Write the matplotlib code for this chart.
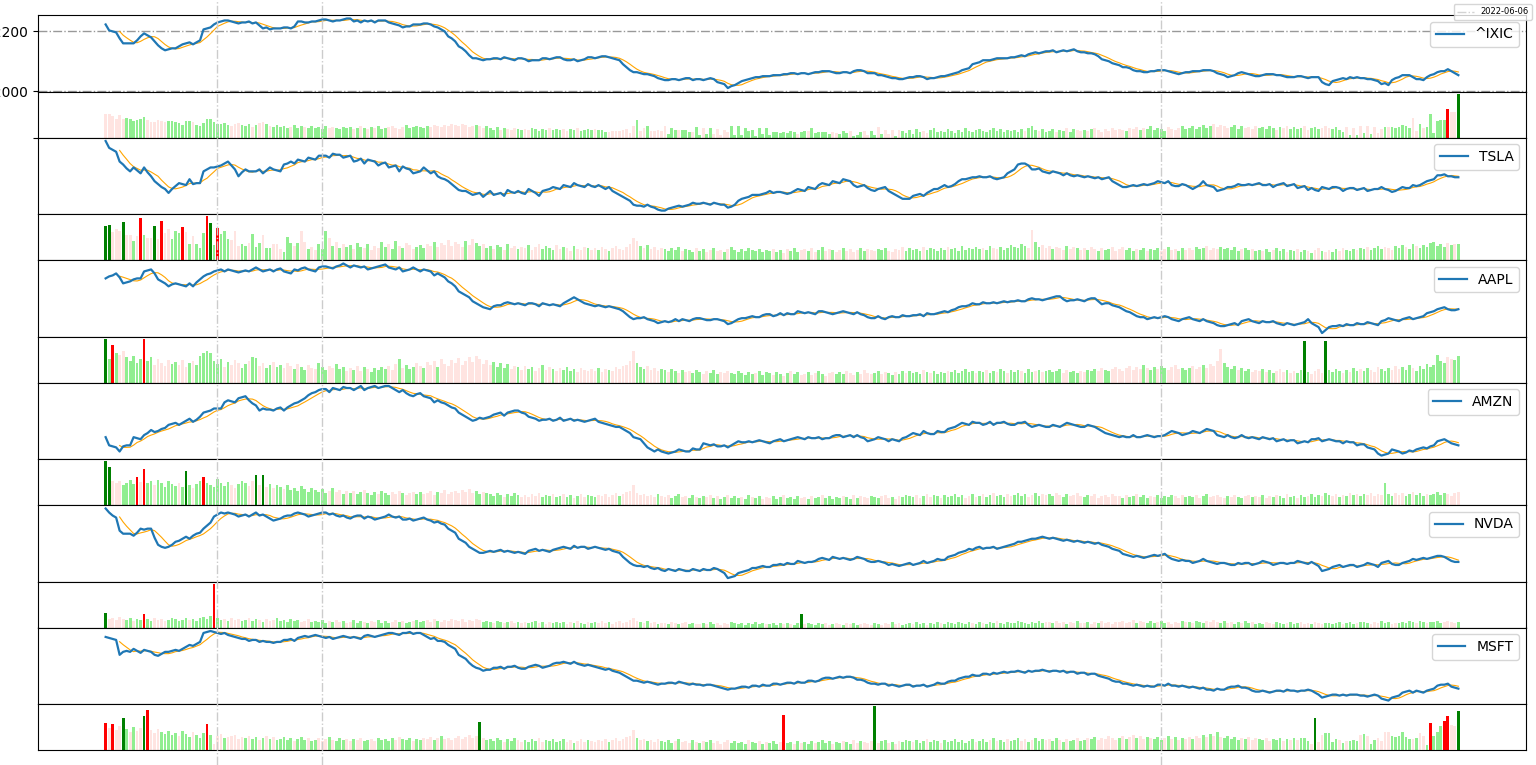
import numpy as np
import pandas as pd
import matplotlib
matplotlib.use("Agg")
import matplotlib.pyplot as plt
from matplotlib.lines import Line2D
from matplotlib.transforms import blended_transform_factory

tickers = ["^IXIC", "TSLA", "AAPL", "AMZN", "NVDA", "MSFT"]
legend_date = "2022-06-06"

# ^IXIC close, relative level (index points = 12000 + level * 200 / 60)
lvl_ixic = [
    67,61,60,59,53,48,48,48,48,51, 55,58,56,54,50,46,43,41,42,43,
    43,45,47,48,49,47,49,51,62,63, 64,67,69,70,71,71,70,69,68,69,
    69,70,68,69,66,63,64,62,63,63, 63,64,64,63,65,70,70,69,69,70,
    70,71,72,72,71,70,71,71,72,73, 73,70,71,69,71,70,71,69,71,71,
    71,69,68,67,66,64,65,65,67,67, 67,68,68,67,65,64,62,60,55,53,
    50,45,43,40,36,33,33,32,31,32, 32,33,33,32,34,33,32,31,33,33,
    32,30,31,31,31,33,33,32,33,34, 34,32,31,31,32,30,31,32,34,34,
    33,34,35,35,34,33,32,31,27,24, 21,19,19,18,17,17,16,15,13,12,
    11,11,12,12,11,12,13,13,11,12, 12,11,12,13,12,9,8,7,3,5,
    6,8,10,11,12,13,14,14,15,15, 15,16,16,16,17,17,18,18,17,18,
    18,17,18,19,19,20,20,20,19,18, 18,19,19,18,20,21,21,20,18,18,
    18,16,16,15,14,13,13,12,12,13, 14,14,15,15,14,12,13,13,14,15,
    15,16,17,18,19,21,22,23,27,28, 29,31,31,31,32,33,33,33,33,34,
    34,35,36,35,37,38,39,38,39,40, 40,41,39,40,41,40,41,42,40,39,
    39,38,38,37,35,32,31,30,28,27, 26,24,24,23,21,20,20,19,19,20,
    20,21,21,21,20,19,18,17,18,19, 19,20,20,20,21,21,21,20,18,17,
    16,14,15,16,18,19,18,17,16,15, 15,16,17,17,17,16,16,15,14,14,
    14,15,15,14,13,14,14,14,9,7, 6,10,11,12,13,12,14,13,14,13,
    13,12,12,11,10,7,8,6,11,13, 14,16,16,16,14,12,12,11,14,16,
    17,19,20,20,22,20,18,16]

close_tsla = [
    75,68,66,64,54,51,47,44,48,45, 42,48,43,39,34,31,28,26,22,26,
    29,32,31,30,36,31,32,32,44,46, 48,48,49,50,52,54,50,46,39,43,
    46,44,44,44,46,42,45,48,46,45, 44,51,52,54,52,56,55,54,58,57,
    56,60,60,60,58,62,61,61,58,59, 60,54,55,57,52,56,55,54,50,52,
    53,48,49,50,44,49,47,46,42,43, 44,48,45,42,44,39,37,36,34,31,
    28,25,24,24,22,20,21,22,18,21, 24,20,21,22,19,25,23,22,24,22,
    21,26,24,22,19,24,25,26,28,27, 26,30,29,28,32,30,29,28,31,29,
    28,30,28,26,28,24,22,20,18,16, 14,10,9,9,8,10,8,7,5,4,
    4,6,7,8,9,8,9,10,12,11, 11,12,11,10,12,11,10,10,7,8,
    10,14,16,17,18,20,20,20,21,22, 24,22,23,23,22,21,22,24,26,25,
    24,28,27,26,30,32,31,30,34,33, 32,36,35,34,30,28,29,30,27,25,
    24,26,27,28,24,22,20,18,16,16, 16,19,20,21,19,22,24,26,26,28,
    30,28,29,31,34,36,36,37,38,38, 39,38,38,39,37,36,37,38,42,44,
    46,51,52,52,50,46,46,47,44,43, 42,44,43,42,40,42,40,39,40,39,
    38,39,38,37,38,36,37,38,34,32, 30,28,28,29,30,29,30,31,30,31,
    32,34,33,32,34,30,29,29,31,30, 28,26,28,30,34,30,29,28,24,25,
    26,28,28,29,31,30,30,31,30,31, 32,30,30,31,28,30,31,32,29,30,
    31,27,28,29,25,27,25,24,28,27, 26,28,28,27,24,26,27,27,25,26,
    27,24,25,26,26,28,26,25,23,24, 26,28,27,27,30,29,30,32,34,35,
    36,40,40,41,39,39,38,38]

close_aapl = [
    60,62,63,65,61,55,56,57,59,60, 60,67,68,69,65,59,57,55,52,54,
    55,54,53,52,55,52,56,59,62,64, 65,67,68,69,67,69,68,67,66,67,
    68,67,69,71,69,67,68,69,67,69, 70,67,66,65,69,68,70,71,69,68,
    67,71,72,72,71,70,72,73,75,73, 71,73,72,71,72,69,70,71,72,73,
    74,71,70,69,71,67,68,69,71,69, 67,69,68,67,63,65,63,61,57,55,
    52,47,45,43,41,37,35,33,31,30, 29,32,33,33,35,36,35,34,35,34,
    33,35,35,34,32,35,34,33,34,33, 32,35,37,39,41,39,37,35,34,33,
    32,33,32,31,32,31,30,29,27,24, 21,19,20,20,21,19,18,17,15,16,
    17,16,17,19,17,19,18,17,19,20, 20,19,18,18,19,19,18,17,14,15,
    17,19,20,20,21,22,21,21,23,24, 24,22,23,25,23,25,24,24,27,26,
    25,26,25,24,27,27,26,25,24,25, 26,27,26,25,24,26,24,23,21,20,
    20,22,20,19,21,22,21,21,23,22, 22,23,23,24,22,25,24,24,25,26,
    27,26,28,29,31,32,32,33,35,34, 34,36,35,35,36,35,36,37,36,37,
    37,38,37,37,39,40,39,39,38,39, 40,41,42,42,39,37,38,38,39,38,
    37,39,40,40,37,34,35,35,33,32, 31,29,27,26,24,22,21,21,19,20,
    21,20,21,22,21,19,18,17,19,20, 21,19,18,17,19,17,16,15,13,12,
    12,13,14,15,13,17,18,19,17,16, 15,17,16,16,17,15,14,13,15,14,
    13,14,15,16,19,15,13,11,5,8, 11,12,12,13,12,14,13,13,15,14,
    14,16,15,14,13,17,18,20,19,18, 17,19,20,21,19,20,21,22,25,26,
    27,29,30,31,29,28,28,29]

close_amzn = [
    23,15,14,13,9,14,15,15,23,22, 21,25,27,30,28,29,31,32,35,36,
    37,35,37,39,41,38,40,43,47,48, 49,51,51,51,57,59,58,57,61,62,
    63,59,56,54,49,51,50,50,49,51, 52,49,52,54,56,57,59,61,64,66,
    67,69,70,70,67,71,70,69,72,71, 71,69,71,73,69,71,72,73,71,72,
    73,73,71,69,67,69,66,64,63,65, 66,63,62,61,57,59,57,56,54,52,
    51,47,45,43,41,39,40,42,41,42, 43,45,46,47,44,47,48,49,49,47,
    46,43,42,41,39,40,40,41,39,40, 42,39,40,41,39,40,39,38,39,40,
    41,38,37,36,35,34,33,33,31,29, 27,23,22,21,17,13,11,9,11,9,
    8,7,8,9,11,10,9,9,12,11, 11,17,16,15,16,14,14,15,13,15,
    17,19,18,18,19,18,19,20,19,18, 17,19,20,21,19,20,21,22,23,22,
    21,23,22,22,23,21,22,22,24,25, 25,23,24,25,23,25,23,22,19,20,
    21,23,22,21,19,21,20,19,22,23, 25,27,26,25,29,27,26,26,29,28,
    28,31,32,33,35,37,36,35,38,37, 37,35,36,38,35,37,37,38,36,35,
    35,37,37,38,35,33,34,35,34,33, 33,35,34,33,35,37,36,35,34,33,
    33,35,34,33,31,29,27,26,25,24, 23,24,23,23,25,23,23,24,25,24,
    23,24,24,25,27,29,28,27,25,26, 27,29,28,27,29,31,30,29,25,24,
    23,25,23,22,23,25,23,22,23,22, 21,23,22,21,22,19,20,21,19,20,
    20,17,18,19,18,21,21,22,19,20, 21,20,19,19,17,19,18,18,15,16,
    16,13,12,11,7,5,6,7,11,10, 9,7,8,10,9,11,12,13,12,14,
    15,19,20,21,19,17,16,15]

close_nvda = [
    74,70,67,65,52,49,49,49,47,50, 54,53,54,54,45,38,36,35,36,38,
    41,42,44,46,44,47,49,50,54,57, 60,66,68,70,69,70,69,68,66,67,
    68,66,68,70,67,68,66,64,62,63, 64,66,67,67,69,70,69,68,66,67,
    68,69,70,70,68,69,67,66,67,65, 64,66,67,67,64,66,65,63,64,65,
    66,68,66,65,66,63,63,64,62,63, 64,65,63,62,60,61,59,58,54,52,
    50,44,42,40,36,34,32,30,30,31, 32,31,32,33,31,32,31,30,31,30,
    29,32,33,34,32,33,32,31,33,34, 35,36,35,34,37,35,36,36,34,35,
    36,35,34,33,34,32,31,30,26,23, 20,18,17,17,16,17,15,14,15,13,
    12,14,13,12,14,13,12,12,14,13, 12,14,13,13,15,14,12,10,5,6,
    7,10,11,12,13,15,15,16,17,16, 16,18,18,19,18,20,19,19,22,21,
    20,21,21,22,24,25,24,23,26,25, 24,25,24,23,24,26,25,24,22,21,
    21,22,21,20,18,19,18,17,18,19, 20,18,19,20,22,20,21,22,24,23,
    23,26,27,28,30,31,32,34,33,35, 36,34,35,35,36,34,35,36,37,38,
    39,41,41,42,43,44,44,45,46,45, 44,45,44,43,42,43,42,41,42,41,
    40,41,40,39,40,38,37,36,34,33, 32,29,28,27,26,27,26,25,26,27,
    28,27,28,29,26,24,23,22,23,22, 22,20,21,22,24,22,21,20,19,20,
    20,19,18,18,20,19,20,20,18,19, 20,22,21,20,18,19,20,20,19,20,
    20,22,21,20,19,21,19,17,12,13, 14,16,17,18,16,17,18,18,16,17,
    18,20,19,18,16,20,21,22,19,18, 18,20,21,22,24,23,24,25,24,25,
    26,27,27,26,24,22,21,21]

close_msft = [
    68,67,66,65,50,53,54,53,56,54, 52,55,54,53,50,49,51,53,53,54,
    55,54,56,58,60,59,61,63,72,73, 74,73,72,71,72,70,69,68,67,66,
    66,64,65,65,63,64,63,63,62,63, 63,65,65,66,64,67,68,69,68,69,
    70,69,68,67,68,66,67,68,69,68, 67,68,67,66,69,70,69,68,69,70,
    71,72,72,71,70,72,72,73,71,72, 72,70,68,66,67,64,64,63,60,58,
    56,50,48,46,42,39,37,36,34,35, 35,37,37,38,36,38,38,39,37,36,
    36,38,39,40,39,37,38,39,41,42, 42,43,42,41,43,41,40,39,40,39,
    38,37,36,35,36,34,33,32,30,28, 26,24,24,23,22,23,22,21,20,21,
    21,22,22,21,23,22,21,20,21,20, 20,19,20,20,19,18,17,16,15,16,
    16,17,18,18,17,19,19,18,20,19, 19,21,21,20,21,22,22,21,23,22,
    22,24,24,23,24,26,27,27,26,27, 28,27,28,28,27,25,25,24,22,21,
    21,20,21,21,19,20,19,18,19,20, 20,18,19,19,20,18,19,20,22,21,
    21,23,24,24,26,27,28,28,30,29, 29,31,31,30,32,31,32,33,32,33,
    33,34,33,32,34,33,34,34,35,34, 33,34,34,33,34,32,33,33,31,32,
    32,30,31,31,29,28,27,26,24,23, 23,21,21,20,19,20,19,18,19,18,
    18,20,20,19,21,19,19,18,19,18, 17,18,17,16,17,15,15,14,16,15,
    15,17,18,18,19,17,17,16,14,13, 13,14,13,12,13,14,14,13,15,14,
    14,13,14,14,15,14,12,10,7,8, 9,10,10,9,10,9,10,10,10,9,
    9,8,9,10,9,6,5,4,7,8, 9,12,13,14,12,14,13,12,14,15,
    16,19,20,20,21,18,17,16]

vol_ixic = [
    24,24,22,19,23,19,20,19,17,18, 19,21,18,16,16,18,17,16,17,17,
    16,15,13,17,17,16,13,12,15,19, 19,16,14,14,15,13,12,14,15,13,
    12,14,11,13,15,16,14,12,11,13, 11,12,10,11,13,10,12,11,10,12,
    10,11,9,12,10,11,10,9,11,10, 11,9,10,12,10,9,11,10,12,9,
    10,11,12,10,9,11,13,10,11,12, 11,10,12,11,13,12,11,13,12,14,
    13,12,14,13,11,12,13,12,10,12, 10,8,11,8,10,9,8,10,9,8,
    9,8,10,9,7,9,8,10,8,9, 8,9,7,9,8,10,7,8,9,8,
    9,8,8,6,6,7,7,7,8,9, 5,12,18,7,10,12,7,7,8,7,
    12,4,10,8,8,8,8,6,6,11, 3,10,4,10,4,9,3,8,6,12,
    3,12,3,10,7,8,2,10,4,10, 3,6,6,5,6,5,7,6,4,6,
    7,7,10,5,6,6,6,4,6,5, 4,7,5,7,2,3,6,7,3,7,
    3,11,4,8,4,8,2,8,7,5, 8,4,9,6,7,5,8,10,6,7,
    6,9,7,5,8,6,10,7,6,8, 9,7,6,8,10,7,9,6,8,7,
    8,6,9,7,10,12,8,7,9,6, 7,9,6,8,7,10,6,9,8,7,
    8,7,9,10,8,6,9,7,10,8, 9,8,7,10,9,11,8,10,9,12,
    8,10,9,7,11,9,8,10,12,9, 10,12,9,11,13,10,12,14,11,13,
    12,10,11,13,9,12,10,11,9,12, 10,11,9,12,10,8,11,10,12,9,
    11,9,10,12,8,10,11,9,10,12, 10,9,11,8,6,11,3,10,3,12,
    5,12,4,11,5,9,11,11,11,10, 11,13,12,10,20,7,14,10,11,24,
    5,17,18,18,29,26,26,44]

vol_tsla = [
    34,35,28,31,29,38,25,25,19,24, 42,25,22,22,34,21,39,27,31,21,
    29,27,33,28,16,24,16,12,27,44, 37,15,32,26,29,21,20,29,14,16,
    14,17,26,13,17,25,12,12,16,16, 11,8,23,17,14,17,29,18,11,13,
    10,16,11,29,22,14,18,12,16,13, 15,11,17,13,12,16,10,14,12,18,
    13,16,11,19,14,12,17,15,11,13, 15,12,16,14,18,13,17,15,20,14,
    18,16,13,19,15,21,17,14,16,12, 14,11,15,13,10,16,12,14,11,13,
    12,15,10,13,16,11,14,12,10,15, 11,13,12,9,14,11,10,13,12,10,
    12,10,13,11,9,12,14,11,10,13, 16,22,19,14,12,15,11,13,10,12,
    11,9,12,10,13,9,11,10,8,12, 9,11,8,10,12,9,10,8,11,13,
    10,8,11,9,12,10,9,11,8,10, 9,11,8,10,7,11,9,12,8,10,
    11,9,12,8,10,13,9,11,10,8, 10,12,9,11,8,10,12,9,11,10,
    9,11,10,12,9,8,11,10,13,9, 12,10,11,9,13,10,12,11,9,12,
    10,13,11,12,9,14,10,12,11,13, 11,12,10,14,12,11,13,10,12,15,
    13,12,16,14,12,30,18,13,15,12, 14,11,13,12,10,14,11,13,12,10,
    12,10,13,11,9,12,10,11,13,9, 11,13,10,12,9,11,10,12,9,11,
    10,12,9,11,13,10,11,9,12,10, 12,10,13,11,12,14,10,12,11,13,
    11,12,10,13,9,11,12,10,11,9, 10,9,11,8,10,12,9,11,8,10,
    9,11,8,10,9,7,10,12,9,8, 10,8,11,9,12,10,9,11,10,12,
    11,13,10,12,14,11,13,12,10,14, 12,15,13,11,16,14,12,15,13,17,
    18,14,16,13,17,15,16,16]

vol_aapl = [
    44,24,38,30,28,32,26,22,27,20, 24,44,22,26,18,24,20,17,23,19,
    21,18,23,16,20,22,18,27,30,32, 30,22,19,24,16,21,18,23,20,15,
    19,22,26,25,17,20,15,18,21,16, 18,15,20,17,14,19,16,13,18,15,
    14,20,16,13,17,15,19,14,16,12, 15,13,17,12,16,14,11,15,13,16,
    14,17,13,19,24,15,18,14,16,20, 17,15,21,18,22,16,24,19,17,23,
    20,25,18,22,26,21,27,24,19,23, 18,21,16,20,15,19,14,17,16,13,
    17,14,16,12,15,18,13,16,14,12, 15,13,16,12,14,11,15,13,12,14,
    12,15,11,14,13,12,16,14,17,18, 22,32,20,16,14,17,13,15,12,14,
    13,11,14,12,10,13,11,12,10,13, 11,9,12,10,13,9,11,10,12,10,
    9,12,10,8,11,9,10,12,8,11, 10,8,11,9,7,10,12,9,11,8,
    9,11,8,10,12,9,7,10,11,9, 11,9,12,10,8,11,9,13,10,9,
    10,12,9,11,10,8,11,9,12,10, 12,10,11,9,13,11,10,12,9,11,
    10,12,11,13,10,12,14,11,12,10, 12,11,13,10,12,11,14,12,10,13,
    11,13,12,10,14,11,12,13,11,12, 13,11,12,14,10,13,11,12,10,12,
    11,13,12,14,12,15,13,12,14,16, 14,12,15,17,13,16,14,18,15,13,
    16,14,17,15,13,16,18,14,15,13, 15,17,14,16,18,15,19,17,22,34,
    20,16,14,17,13,15,12,14,11,13, 12,14,11,13,10,12,14,11,13,10,
    12,10,13,42,11,9,12,14,10,42, 13,11,14,12,10,13,11,15,12,14,
    12,15,13,11,16,14,12,15,13,17, 14,16,13,18,15,12,17,14,19,16,
    18,28,22,20,26,24,23,27]

vol_amzn = [
    44,38,24,22,24,20,22,25,21,28, 23,36,22,24,20,25,22,18,24,21,
    19,22,18,34,20,17,21,24,28,22, 20,18,26,22,19,23,20,17,21,24,
    22,19,24,30,20,30,18,21,17,20, 18,16,20,15,17,14,19,16,13,17,
    15,13,16,12,14,17,13,15,11,14, 12,14,11,13,15,12,10,13,11,14,
    12,10,13,11,14,12,10,12,13,11, 13,11,12,14,10,13,12,15,11,13,
    14,12,15,13,16,12,14,11,13,12, 11,9,12,10,8,11,9,12,10,8,
    10,8,11,9,12,8,10,9,11,8, 9,11,8,10,7,9,11,8,10,9,
    8,10,9,11,8,10,12,9,11,13, 14,20,12,10,11,9,10,8,11,9,
    8,10,7,9,11,8,9,7,10,8, 7,9,8,10,7,9,6,8,10,7,
    9,7,8,6,10,8,7,9,6,8, 7,9,6,8,10,7,8,6,9,7,
    8,6,9,7,8,10,7,9,6,8, 7,9,8,6,10,7,9,8,7,9,
    8,7,9,10,7,8,6,9,8,10, 9,8,10,7,9,11,8,10,9,7,
    10,8,9,11,8,10,7,9,11,8, 9,11,8,10,12,9,10,8,11,9,
    10,12,9,11,8,10,12,9,11,10, 11,9,12,10,8,11,9,10,12,9,
    8,10,9,11,7,9,10,8,11,9, 9,7,10,8,9,11,8,10,7,9,
    8,10,7,9,8,10,9,7,10,8, 9,8,10,7,9,11,8,9,10,8,
    7,9,8,10,8,7,9,10,8,9, 8,10,7,9,8,10,9,7,11,8,
    9,7,10,8,9,11,8,10,9,12, 10,9,11,8,10,9,12,10,11,9,
    11,10,12,9,11,10,22,11,9,12, 10,12,9,11,13,10,12,9,11,10,
    11,13,10,12,11,9,12,13]

vol_nvda = [
    15,9,10,8,11,9,8,10,7,9, 8,14,9,7,10,8,9,7,8,10,
    9,7,8,10,8,9,7,10,11,9, 12,44,10,8,9,7,10,8,9,7,
    8,10,7,9,8,6,9,7,8,10, 7,8,6,9,7,8,6,7,9,6,
    7,6,8,5,7,6,8,6,7,5, 6,8,5,7,6,5,7,6,8,5,
    7,5,6,8,6,7,5,6,7,8, 6,7,8,6,9,7,6,8,7,9,
    8,7,9,6,8,7,9,8,6,7, 6,5,7,6,5,6,7,5,6,5,
    6,5,6,7,5,6,4,6,5,6, 5,6,4,6,5,7,5,4,6,5,
    6,5,7,5,6,4,6,7,5,6, 8,10,7,6,5,7,5,6,4,5,
    5,4,6,5,4,5,6,4,5,4, 4,5,4,6,4,5,3,5,4,6,
    5,4,5,3,5,4,6,4,5,4, 4,5,3,5,4,5,4,3,5,14,
    4,5,4,3,5,4,5,3,4,5, 4,3,5,4,5,3,4,5,4,3,
    5,4,3,5,4,6,4,5,3,4, 5,4,6,4,5,3,5,4,6,5,
    4,6,5,4,6,5,4,6,5,4, 6,5,4,6,5,7,5,4,6,5,
    5,7,6,5,4,6,5,7,5,6, 6,5,7,5,6,4,6,5,7,5,
    5,6,4,6,5,7,5,6,4,6, 6,7,5,6,8,5,7,6,5,7,
    5,6,7,5,6,4,6,5,7,6, 6,5,7,6,5,7,6,8,6,5,
    7,5,6,4,6,5,7,5,6,4, 5,4,6,5,4,6,5,4,5,6,
    4,5,6,4,5,4,6,5,4,5, 5,4,5,6,4,5,6,4,5,6,
    6,5,4,6,5,7,5,6,4,5, 5,6,5,7,6,5,7,6,5,6,
    6,7,5,6,7,6,5,6]

vol_msft = [
    27,22,26,20,24,32,21,18,23,19, 22,34,40,20,17,21,18,16,19,15,
    17,14,19,16,13,18,15,12,17,26, 15,6,14,16,12,13,14,15,11,13,
    12,14,11,13,10,12,14,11,13,10, 11,13,10,12,9,11,13,10,12,9,
    10,12,9,11,13,10,9,12,10,11, 9,11,10,12,9,10,11,9,12,10,
    11,9,12,10,13,11,10,12,9,11, 10,12,11,13,10,12,14,11,12,10,
    12,14,11,13,15,12,14,28,12,10, 11,9,12,10,8,11,9,12,10,8,
    10,8,11,9,12,8,10,9,11,8, 9,11,8,10,7,9,11,8,10,9,
    8,10,9,11,8,10,12,9,11,13, 14,20,12,10,11,9,10,8,11,9,
    8,10,7,9,11,8,9,7,10,8, 7,9,8,10,7,9,6,8,10,7,
    9,7,8,6,10,8,7,9,6,8, 7,9,6,8,35,7,8,6,9,7,
    8,6,9,7,8,10,7,9,6,8, 7,9,8,6,10,7,9,8,7,9,
    44,7,9,10,7,8,6,9,8,10, 9,8,10,7,9,11,8,10,9,7,
    10,8,9,11,8,10,7,9,11,8, 9,11,8,10,12,9,10,8,11,9,
    10,12,9,11,8,10,12,9,11,10, 11,9,12,10,8,11,9,10,12,9,
    10,12,11,13,10,12,11,14,12,10, 12,14,11,13,15,12,14,11,13,12,
    11,13,10,12,14,11,13,10,12,11, 13,11,14,12,15,13,16,14,18,13,
    12,14,11,13,10,12,11,13,10,12, 11,10,12,9,11,10,12,9,11,10,
    12,10,12,12,9,6,32,8,15,17, 17,8,11,10,7,9,9,10,9,15,
    16,14,6,10,12,9,18,18,14,13, 14,18,13,11,11,12,17,14,5,27,
    14,18,24,29,34,25,24,39]

# high-volume days (dark bars), by day index
spike_up = {"^IXIC": [387], "TSLA": [0, 1, 5, 14, 30], "AAPL": [0, 343, 349],
            "AMZN": [0, 1, 23, 43, 45], "NVDA": [0, 199], "MSFT": [5, 11, 107, 220, 346, 387]}
spike_down = {"^IXIC": [384], "TSLA": [10, 16, 22, 29, 32], "AAPL": [2, 11],
              "AMZN": [9, 11, 28], "NVDA": [11, 31], "MSFT": [0, 2, 12, 29, 194, 379, 383, 384]}
events = [32, 62, 302]

close_ixic = 12000 + np.array(lvl_ixic) * 200 / 60
closes = {"^IXIC": close_ixic, "TSLA": close_tsla, "AAPL": close_aapl,
          "AMZN": close_amzn, "NVDA": close_nvda, "MSFT": close_msft}
vols = {"^IXIC": vol_ixic, "TSLA": vol_tsla, "AAPL": vol_aapl,
        "AMZN": vol_amzn, "NVDA": vol_nvda, "MSFT": vol_msft}

fig = plt.figure(figsize=(15.36, 7.65), dpi=100)
gs = fig.add_gridspec(12, 1, height_ratios=[5, 3] * 6, hspace=0,
                      left=38 / 1536, right=1526 / 1536,
                      top=1 - 15 / 765, bottom=1 - 750 / 765)
axes = []
for r in range(12):
    ax = fig.add_subplot(gs[r], sharex=axes[0] if axes else None)
    axes.append(ax)

N = len(close_ixic)
x = np.arange(N)
for k, t in enumerate(tickers):
    axp, axv = axes[2 * k], axes[2 * k + 1]
    c = pd.Series(np.asarray(closes[t], dtype=float))
    ma = c.rolling(5).mean()
    axp.plot(x, ma, color="orange", lw=0.8, zorder=2)
    ln, = axp.plot(x, c, color="#1f77b4", lw=1.6, zorder=3)
    axp.legend([ln], [t], loc="upper right", fontsize=10)
    up = (c.diff().fillna(-1) >= 0).values
    cols = np.where(up, "lightgreen", "mistyrose").astype(object)
    for i in spike_up[t]:
        cols[i] = "green"
    for i in spike_down[t]:
        cols[i] = "red"
    axv.bar(x, vols[t], color=list(cols), width=0.8)

for ax in axes:
    ax.set_xticks([])
    ax.set_yticks([])
axes[0].set_xlim(-0.05 * (N - 1), 1.05 * (N - 1))
axes[0].set_yticks([12000, 12200])
axes[0].grid(axis="y", ls="-.", color="#999999", lw=1)
axes[1].set_yticks([0])
axes[1].set_yticklabels([""])

trans = blended_transform_factory(axes[-1].transData, fig.transFigure)
for e in events:
    fig.add_artist(Line2D([e, e], [0, 1], transform=trans, color="#cccccc",
                          ls="-.", lw=1))

fig.legend(handles=[Line2D([], [], color="lightgray", ls="-.", lw=1)],
           labels=[legend_date], loc="upper right", fontsize=6)

fig.savefig("out.png", dpi=100)
